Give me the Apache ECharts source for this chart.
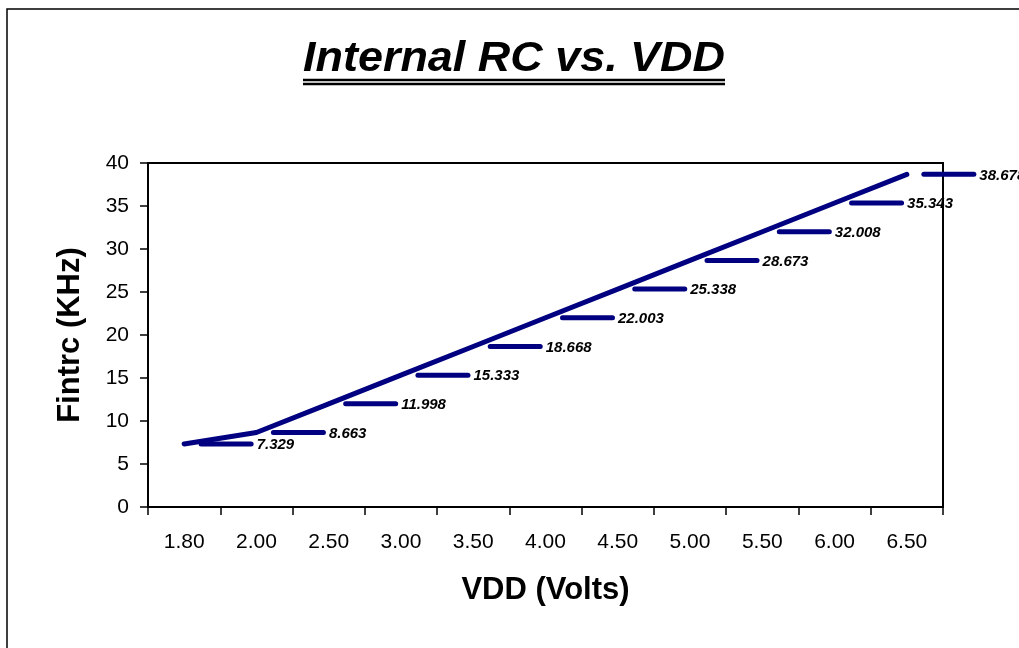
<!DOCTYPE html>
<html>
<head>
<meta charset="utf-8">
<script src="https://cdn.jsdelivr.net/npm/echarts@6/dist/echarts.min.js"></script>
<style>html,body{margin:0;padding:0;background:#fff;}#c{width:1019px;height:648px;}</style>
</head>
<body>
<div id="c"></div>
<script>
var categories = ['1.80','2.00','2.50','3.00','3.50','4.00','4.50','5.00','5.50','6.00','6.50'];
var fintrc = [7.329, 8.663, 11.998, 15.333, 18.668, 22.003, 25.338, 28.673, 32.008, 35.343, 38.678];
var yTicks = {min: 0, max: 40, interval: 5};

var chart = echarts.init(document.getElementById('c'));
var navy = '#000080';
var FONT = 'Arial, "Liberation Sans", sans-serif';
chart.setOption({
  animation: false,
  backgroundColor: '#fff',
  graphic: [
    {type: 'rect', shape: {x: 7, y: 9, width: 1200, height: 1000}, style: {fill: 'none', stroke: '#000', lineWidth: 1.5}, silent: true},
    {type: 'text', x: 514, y: 59, scaleX: 1.045, style: {text: 'Internal RC vs. VDD', font: 'italic bold 43px Arial, "Liberation Sans", sans-serif', fill: '#000', textAlign: 'center', textVerticalAlign: 'middle'}},
    {type: 'line', shape: {x1: 303, y1: 80, x2: 725, y2: 80}, style: {stroke: '#000', lineWidth: 2.5}},
    {type: 'line', shape: {x1: 303, y1: 84, x2: 725, y2: 84}, style: {stroke: '#000', lineWidth: 2.5}}
  ],
  grid: {left: 148, right: 76, top: 163, bottom: 141, show: true, borderColor: '#000', borderWidth: 2, backgroundColor: 'transparent'},
  xAxis: {
    type: 'category',
    data: categories,
    boundaryGap: true,
    name: 'VDD (Volts)',
    nameLocation: 'middle',
    nameGap: 68,
    nameTextStyle: {fontFamily: FONT, fontWeight: 'bold', fontSize: 31, color: '#000'},
    axisLine: {lineStyle: {color: '#000', width: 2}},
    axisTick: {show: true, length: 8, alignWithLabel: false, lineStyle: {color: '#000', width: 1.5}},
    axisLabel: {fontFamily: FONT, fontSize: 21, color: '#000', margin: 25},
    splitLine: {show: false}
  },
  yAxis: {
    type: 'value',
    min: yTicks.min, max: yTicks.max, interval: yTicks.interval,
    name: 'Fintrc (KHz)',
    nameLocation: 'middle',
    nameGap: 62,
    nameTextStyle: {fontFamily: FONT, fontWeight: 'bold', fontSize: 31, color: '#000'},
    axisLine: {show: true, lineStyle: {color: '#000', width: 2}},
    axisTick: {show: true, length: 8, lineStyle: {color: '#000', width: 1.5}},
    axisLabel: {fontFamily: FONT, fontSize: 21, color: '#000', margin: 19},
    splitLine: {show: false}
  },
  series: [{
    type: 'line',
    data: fintrc,
    symbol: 'circle',
    symbolSize: 1,
    itemStyle: {color: navy},
    lineStyle: {color: navy, width: 5, cap: 'round'},
    label: {
      show: true,
      position: 'right',
      distance: 14,
      formatter: function (p) { return '{k|}{v|' + p.value.toFixed(3) + '}'; },
      rich: {
        k: {width: 55, height: 5, backgroundColor: navy, borderRadius: 2.5},
        v: {fontFamily: FONT, fontStyle: 'italic', fontWeight: 'bold', fontSize: 15, color: '#000', padding: [2, 0, 0, 3]}
      }
    }
  }]
});
</script>
</body>
</html>
